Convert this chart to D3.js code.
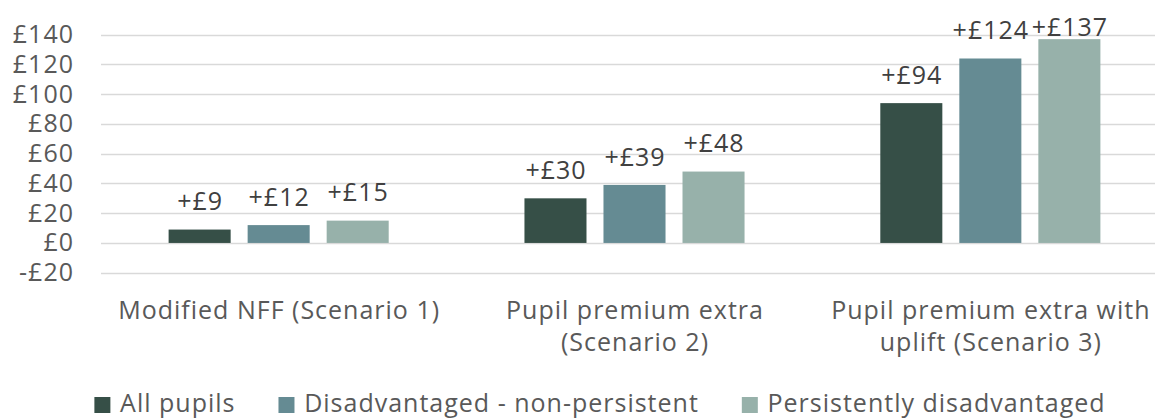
<!DOCTYPE html>
<html><head><meta charset="utf-8">
<script src="https://cdn.jsdelivr.net/npm/d3@7"></script>
<style>
html,body{margin:0;padding:0;background:#fff;}
svg{display:block;font-family:"Open Sans", sans-serif;}
svg text{letter-spacing:1px;}
</style></head>
<body><svg id="chart" width="1155" height="418"></svg>
<script>
const categories = ["Modified NFF (Scenario 1)", "Pupil premium extra (Scenario 2)", "Pupil premium extra with uplift (Scenario 3)"];
const seriesNames = ["All pupils", "Disadvantaged - non-persistent", "Persistently disadvantaged"];
const allPupils = [9, 30, 94];
const disadvNonPersistent = [12, 39, 124];
const persistentlyDisadv = [15, 48, 137];
const dataLabels = [["+£9", "+£30", "+£94"], ["+£12", "+£39", "+£124"], ["+£15", "+£48", "+£137"]];
const yTicks = [-20, 0, 20, 40, 60, 80, 100, 120, 140];
const yTickLabels = ["-£20", "£0", "£20", "£40", "£60", "£80", "£100", "£120", "£140"];
const colors = ["#364f47", "#658b93", "#97b1aa"];

const series = [allPupils, disadvNonPersistent, persistentlyDisadv];
const svg = d3.select("#chart");
const FS = 25;
const FONT = '"Open Sans", sans-serif';

const y = d3.scaleLinear().domain([-20, 140]).range([272.7, 34.7]);
const x0 = d3.scaleBand().domain(categories).range([101, 1168]).paddingInner(0.3815).paddingOuter(0.19);
const x1 = d3.scaleBand().domain(seriesNames).range([0, x0.bandwidth()]).paddingInner(0.215).paddingOuter(0);

// gridlines
svg.append("g").selectAll("line").data(yTicks).join("line")
  .attr("x1", 101).attr("x2", 1168)
  .attr("y1", d => Math.round(y(d)) + 0.5).attr("y2", d => Math.round(y(d)) + 0.5)
  .attr("stroke", "#d9d9d9").attr("stroke-width", 1.3);

// y axis
const yAxis = d3.axisLeft(y).tickValues(yTicks).tickFormat((d, i) => yTickLabels[i]).tickSize(0).tickPadding(-1);
const ya = svg.append("g").attr("transform", "translate(73,0)").call(yAxis);
ya.select(".domain").remove();
ya.selectAll("text").attr("font-size", FS).attr("fill", "#595959").attr("font-family", FONT);

// bars
const groups = svg.append("g").selectAll("g").data(categories).join("g")
  .attr("transform", d => `translate(${x0(d)},0)`);
groups.each(function(cat, ci) {
  const g = d3.select(this);
  seriesNames.forEach((s, si) => {
    const v = series[si][ci];
    g.append("rect").attr("x", x1(s)).attr("width", x1.bandwidth())
      .attr("y", y(Math.max(0, v))).attr("height", Math.abs(y(v) - y(0)))
      .attr("fill", colors[si]);
    const top = y(v);
    const cy = Math.max(top - 28, 27);
    g.append("text").attr("x", x1(s) + x1.bandwidth() / 2 + 0.5).attr("y", cy)
      .attr("dy", "0.35em").attr("text-anchor", "middle")
      .attr("font-size", FS).attr("fill", "#404040").text(dataLabels[si][ci]);
  });
});

// category labels with wrapping
const xa = svg.append("g");
categories.forEach(cat => {
  const t = xa.append("text").attr("text-anchor", "middle").attr("font-size", FS).attr("fill", "#595959");
  const cx = x0(cat) + x0.bandwidth() / 2 + 0.5;
  const words = cat.split(" ");
  let lines = [], line = [];
  const tmp = svg.append("text").attr("font-size", FS);
  words.forEach(w => {
    const test = line.concat([w]).join(" ");
    tmp.text(test);
    if (tmp.node().getComputedTextLength() > 340 && line.length) { lines.push(line.join(" ")); line = [w]; }
    else line.push(w);
  });
  lines.push(line.join(" "));
  tmp.remove();
  lines.forEach((l, i) => t.append("tspan").attr("x", cx).attr("y", 319 + i * 32).text(l));
});

// legend
const legend = svg.append("g");
let xpos = 0;
seriesNames.forEach((s, i) => {
  const g = legend.append("g");
  g.append("rect").attr("x", xpos).attr("y", 397).attr("width", 16).attr("height", 16).attr("fill", colors[i]);
  const t = g.append("text").attr("x", xpos + 25.7).attr("y", 411.7).attr("font-size", FS).attr("fill", "#595959").text(s);
  const w = t.node().getComputedTextLength();
  xpos += 25.7 + w + (i < seriesNames.length - 1 ? 43 : 0);
});
legend.attr("transform", `translate(${600 - xpos / 2},0)`);
</script></body></html>
